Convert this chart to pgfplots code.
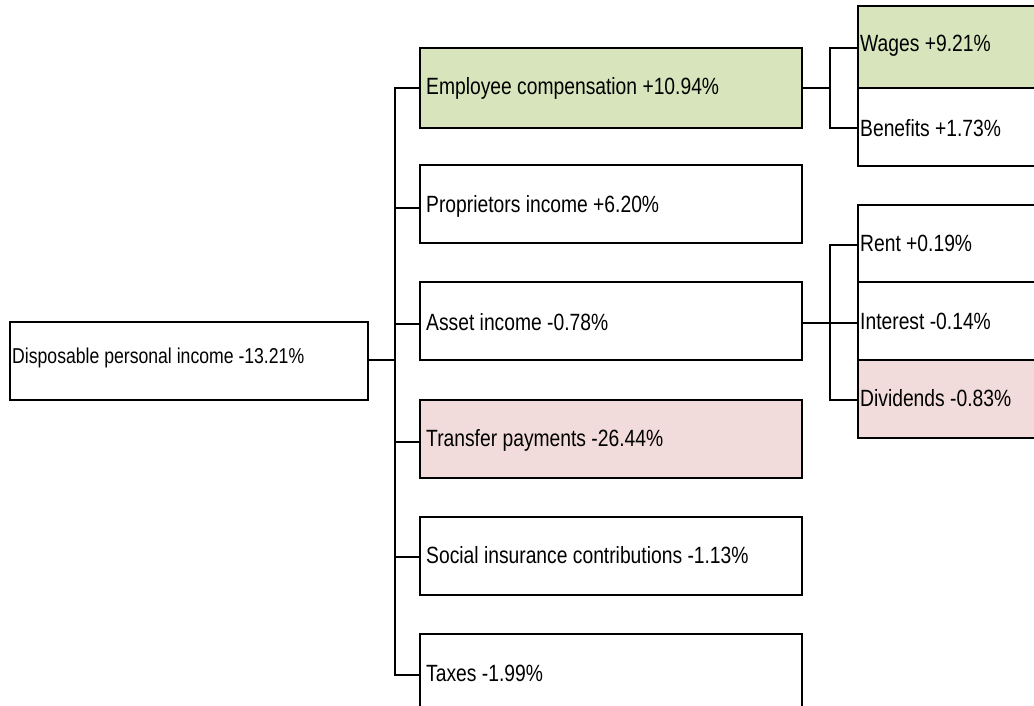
\documentclass[border=0pt]{standalone}
\usepackage{pgfplots}
\pgfplotsset{compat=1.18}
\usepackage{fontspec}
\setmainfont[FakeStretch=0.82]{Liberation Sans}
\definecolor{gfill}{HTML}{D8E4BC}
\definecolor{pfill}{HTML}{F2DCDB}
\newcommand{\bx}[5]{\addplot[draw=black,line width=2.5pt,fill=#5] coordinates {(#1,#3) (#2,#3) (#2,#4) (#1,#4) (#1,#3)} -- cycle;}
\begin{document}
\begin{tikzpicture}
\begin{axis}[width=1034pt,height=706pt,scale only axis,hide axis,
 xmin=0,xmax=1034,ymin=0,ymax=706,y dir=reverse,
 nodes={font=\fontsize{23.5}{27}\selectfont,anchor=west,inner sep=1pt}]
\addplot[draw=white,opacity=0] coordinates {(0,0) (1034,706)};
\path[draw=none] (axis cs:0,0) rectangle (axis cs:1034,706);
\bx{10}{368}{322}{400}{white}
\bx{420}{802}{48}{128}{gfill}
\bx{420}{802}{165}{243}{white}
\bx{420}{802}{282}{360}{white}
\bx{420}{802}{400}{478}{pfill}
\bx{420}{802}{517}{595}{white}
\bx{420}{802}{634}{720}{white}
\bx{858}{1045}{6}{88}{gfill}
\bx{858}{1045}{88}{166}{white}
\bx{858}{1045}{205}{282}{white}
\bx{858}{1045}{282}{360}{white}
\bx{858}{1045}{360}{438}{pfill}
\addplot[black,line width=2.5pt] coordinates {(368,360) (395,360)};
\addplot[black,line width=2.5pt] coordinates {(420,88) (395,88) (395,675) (420,675)};
\addplot[black,line width=2.5pt] coordinates {(395,208) (420,208)};
\addplot[black,line width=2.5pt] coordinates {(395,324) (420,324)};
\addplot[black,line width=2.5pt] coordinates {(395,442) (420,442)};
\addplot[black,line width=2.5pt] coordinates {(395,557) (420,557)};
\addplot[black,line width=2.5pt] coordinates {(802,88) (830,88)};
\addplot[black,line width=2.5pt] coordinates {(858,48) (830,48) (830,128) (858,128)};
\addplot[black,line width=2.5pt] coordinates {(802,323) (830,323)};
\addplot[black,line width=2.5pt] coordinates {(858,245) (830,245) (830,400) (858,400)};
\addplot[black,line width=2.5pt] coordinates {(830,323) (858,323)};
\node[font=\fontsize{21.5}{25}\selectfont] at (axis cs:11,358) {Disposable personal income -13.21\%};
\node at (axis cs:425,88) {Employee compensation +10.94\%};
\node at (axis cs:425,206) {Proprietors income +6.20\%};
\node at (axis cs:425,322) {Asset income -0.78\%};
\node at (axis cs:425,440) {Transfer payments -26.44\%};
\node at (axis cs:425,555) {Social insurance contributions -1.13\%};
\node at (axis cs:425,673) {Taxes -1.99\%};
\node at (axis cs:859,46) {Wages +9.21\%};
\node at (axis cs:859,128) {Benefits +1.73\%};
\node at (axis cs:859,243) {Rent +0.19\%};
\node at (axis cs:859,321) {Interest -0.14\%};
\node at (axis cs:859,398) {Dividends -0.83\%};
\end{axis}
\end{tikzpicture}
\end{document}
